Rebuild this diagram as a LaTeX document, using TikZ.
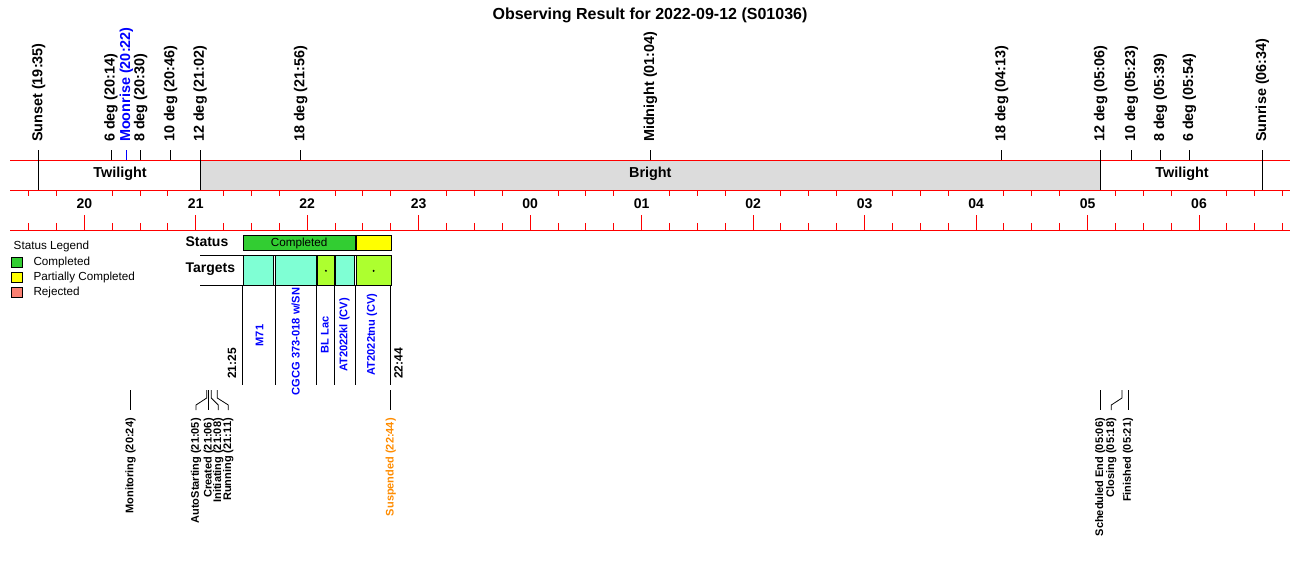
\documentclass[tikz,border=0pt]{standalone}
\usepackage{fontspec}
\setmainfont{Liberation Sans}
\newcommand\myfs[1]{\fontsize{#1}{#1}\selectfont}
\definecolor{bandgrey}{RGB}{220,220,220}
\definecolor{cgreen}{RGB}{50,205,50}
\definecolor{cyellow}{RGB}{255,255,0}
\definecolor{csalmon}{RGB}{250,128,114}
\definecolor{caqua}{RGB}{127,255,212}
\definecolor{cgy}{RGB}{173,255,47}
\definecolor{tblue}{RGB}{0,0,255}
\definecolor{corange}{RGB}{255,140,0}
\tikzset{
  redline/.style={draw=red, line width=1pt},
  blkline/.style={draw=black, line width=1pt},
  toplab/.style={rotate=90, anchor=west, inner sep=0pt, font=\myfs{14.4}\bfseries},
  evlab/.style={rotate=90, anchor=east, inner sep=0pt, font=\myfs{11}\bfseries},
  tgtlab/.style={rotate=90, inner sep=0pt, text=tblue, font=\myfs{11.1}\bfseries},
  timelab/.style={rotate=90, anchor=west, inner sep=0pt, font=\myfs{12}\bfseries},
  hourlab/.style={inner sep=0pt, font=\myfs{14}\bfseries},
  bandlab/.style={inner sep=0pt, font=\myfs{14.4}\bfseries},
  rowlab/.style={anchor=west, inner sep=0pt, font=\myfs{14}\bfseries},
  leglab/.style={anchor=west, inner sep=0pt, font=\myfs{11.7}},
  legsq/.style={draw=black, line width=0.8pt, minimum width=10.7pt, minimum height=10pt, inner sep=0pt},
  segbox/.style={draw=black, line width=1pt, inner sep=0pt}
}
\begin{document}
\begin{tikzpicture}[x=1pt,y=-1pt]
\useasboundingbox (0,0) rectangle (1300,560);
% title
\node[inner sep=0pt, font=\myfs{16}\bfseries] (title) at (650,15) {Observing Result for 2022-09-12 (S01036)};

% band
\fill[bandgrey] (200.3,160) rectangle (1100.7,190);
\draw[redline] (10,160) -- (1290,160);
\draw[redline] (10,190) -- (1290,190);
\draw[redline] (10,230) -- (1290,230);
\node[bandlab] (tw1) at (120,174) {Twilight};
\node[bandlab] (br) at (650.3,174) {Bright};
\node[bandlab] (tw2) at (1182,174) {Twilight};

% top markers
\foreach \x/\lab/\ye [count=\i] in {
  38.7/Sunset (19:35)/190,
  111/6 deg (20:14)/160,
  140.7/8 deg (20:30)/160,
  170.7/10 deg (20:46)/160,
  200.3/12 deg (21:02)/190,
  300.7/18 deg (21:56)/160,
  650.3/Midnight (01:04)/160,
  1001.7/18 deg (04:13)/160,
  1100.7/12 deg (05:06)/190,
  1131.3/10 deg (05:23)/160,
  1160.3/8 deg (05:39)/160,
  1189.3/6 deg (05:54)/160,
  1262.3/Sunrise (06:34)/190} {
  \coordinate (mt\i) at (\x,150);
  \coordinate (mb\i) at (\x,\ye);
  \draw[blkline] (mt\i) -- (mb\i);
  \node[toplab] (ml\i) at (\x,142) {\lab};
}
\coordinate (moont) at (126.3,150);
\coordinate (moonb) at (126.3,160);
\draw[draw=tblue, line width=1pt] (moont) -- (moonb);
\node[toplab, text=tblue] (moonlab) at (126.3,142) {Moonrise (20:22)};

% time axis ticks
\foreach \q in {-2,...,43} {
  \pgfmathsetmacro\xx{84.3+111.47*\q/4}
  \pgfmathtruncatemacro\r{mod(\q+8,4)}
  \ifnum\r=0
    \draw[redline] (\xx,215) -- (\xx,230);
  \else
    \draw[redline] (\xx,190) -- (\xx,196);
    \draw[redline] (\xx,223) -- (\xx,230);
  \fi
}
\foreach \k/\h in {0/20,1/21,2/22,3/23,4/00,5/01,6/02,7/03,8/04,9/05,10/06} {
  \node[hourlab] (h\h) at ({84.3+111.47*\k},204) {\h};
}

% legend
\node[leglab] (legt) at (13.5,246.3) {Status Legend};
\node[legsq, fill=cgreen] (lq1) at (16.6,262.3) {};
\node[legsq, fill=cyellow] (lq2) at (16.6,277.3) {};
\node[legsq, fill=csalmon] (lq3) at (16.6,292.3) {};
\node[leglab] (ll1) at (33.3,262.3) {Completed};
\node[leglab] (ll2) at (33.3,277.3) {Partially Completed};
\node[leglab] (ll3) at (33.3,292.3) {Rejected};

% status row
\node[rowlab] (stl) at (185.3,241.5) {Status};
\node[segbox, fill=cgreen, minimum width=112.2pt, minimum height=15.3pt, anchor=north west] (st1) at (242.5,235) {};
\node[inner sep=0pt, font=\myfs{11.7}] (stt) at (st1.center) {Completed};
\node[segbox, fill=cyellow, minimum width=34.8pt, minimum height=15.3pt, anchor=north west] (st2) at (355.7,235) {};

% targets row
\node[rowlab] (tgl) at (185.3,269.5) {Targets};
\coordinate (tl1) at (200,255.3);
\coordinate (tr1) at (390.5,255.3);
\coordinate (tl2) at (200,285.3);
\coordinate (tr2) at (390.5,285.3);
\draw[blkline] (tl1) -- (tr1);
\draw[blkline] (tl2) -- (tr2);
\foreach \a/\b/\c [count=\i] in {242.7/273.3/caqua, 275.3/316.2/caqua, 316.7/334.2/cgy, 334.7/354.2/caqua, 355.7/390.5/cgy} {
  \node[segbox, fill=\c, minimum width={\b-\a}, minimum height=30pt, anchor=north west] (tg\i) at (\a,255.3) {};
}
\fill[black] (tg3.center) circle (1.1pt);
\fill[black] (tg5.center) circle (1.1pt);

% columns below targets
\foreach \x [count=\i] in {242.7,275.3,316.7,334.7,355.7,390.5} {
  \coordinate (ct\i) at (\x,285.3);
  \coordinate (cb\i) at (\x,385.3);
  \draw[blkline] (ct\i) -- (cb\i);
}
\node[tgtlab] (n1) at (259.5,335.5) {M71};
\node[tgtlab] (n2) at (295.8,341.5) {CGCG 373-018 w/SN};
\node[tgtlab] (n3) at (324.8,335) {BL Lac};
\node[tgtlab] (n4) at (344.5,335) {AT2022kl (CV)};
\node[tgtlab] (n5) at (372,334.5) {AT2022tnu (CV)};
\node[timelab] (t1) at (232,379) {21:25};
\node[timelab] (t2) at (398.5,379) {22:44};

% bottom events
\foreach \xt/\xb/\lab [count=\i] in {
  130.5/130.5/Monitoring (20:24),
  206.7/196/AutoStarting (21:05),
  208.7/208.7/Created (21:06),
  211.3/218.3/Initiating (21:08),
  217.3/228.3/Running (21:11),
  1100.3/1100.3/Scheduled End (05:06),
  1122/1111.3/Closing (05:18),
  1128/1128/Finished (05:21)} {
  \coordinate (ea\i) at (\xt,390);
  \coordinate (eb\i) at (\xt,398);
  \coordinate (ec\i) at (\xb,405);
  \coordinate (ed\i) at (\xb,410);
  \draw[line width=0.8pt] (ea\i) -- (eb\i) -- (ec\i) -- (ed\i);
  \node[evlab] (el\i) at (\xb,418) {\lab};
}
\coordinate (sa) at (390.7,390);
\coordinate (sb) at (390.7,410);
\draw[line width=0.8pt] (sa) -- (sb);
\node[evlab, text=corange] (susp) at (390.7,418) {Suspended (22:44)};
\end{tikzpicture}
\end{document}
